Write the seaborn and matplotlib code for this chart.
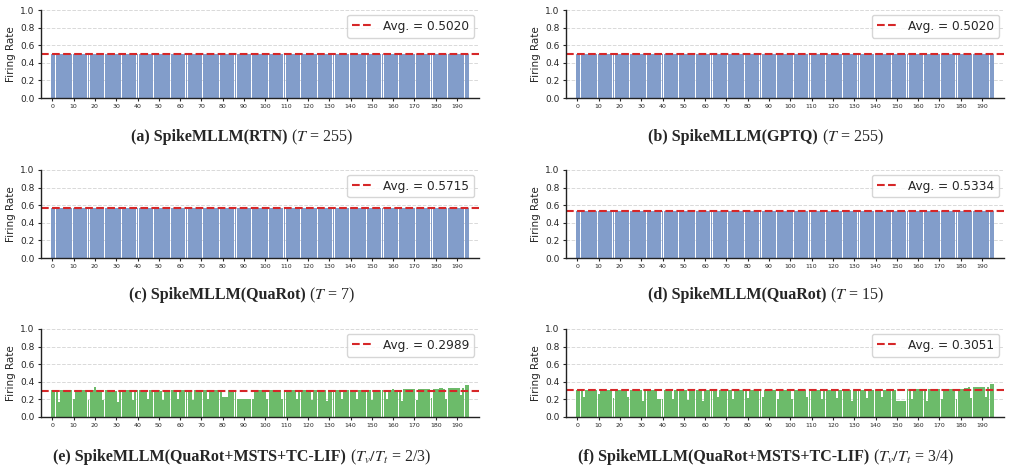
import matplotlib
matplotlib.use("Agg")
import matplotlib.pyplot as plt
import seaborn as sns

# ---- data -------------------------------------------------------------
MODULE_IDX = list(range(196))
TICK_POS = list(range(0, 196, 10))

# uniform firing rates for the quantized baselines
RTN_RATES = [0.502] * 196
GPTQ_RATES = [0.502] * 196
QUAROT_T7_RATES = [0.5715] * 196
QUAROT_T15_RATES = [0.5334] * 196

# QuaRot+MSTS+TC-LIF, Tv/Tt = 2/3 (7 modules per layer, 28 layers)
MSTS_23_RATES = [
    0.31, 0.31, 0.30, 0.17, 0.31, 0.31, 0.31,
    0.31, 0.31, 0.31, 0.21, 0.31, 0.31, 0.31,
    0.31, 0.31, 0.31, 0.19, 0.31, 0.31, 0.34,
    0.31, 0.31, 0.31, 0.19, 0.31, 0.31, 0.31,
    0.31, 0.31, 0.30, 0.17, 0.31, 0.31, 0.31,
    0.31, 0.31, 0.31, 0.19, 0.31, 0.31, 0.31,
    0.31, 0.31, 0.31, 0.21, 0.31, 0.31, 0.31,
    0.31, 0.31, 0.30, 0.19, 0.31, 0.31, 0.31,
    0.31, 0.31, 0.31, 0.20, 0.31, 0.31, 0.31,
    0.31, 0.31, 0.31, 0.19, 0.31, 0.31, 0.31,
    0.31, 0.31, 0.31, 0.20, 0.31, 0.31, 0.31,
    0.31, 0.31, 0.31, 0.23, 0.23, 0.23, 0.31,
    0.31, 0.31, 0.31, 0.21, 0.21, 0.21, 0.21,
    0.21, 0.21, 0.21, 0.20, 0.31, 0.31, 0.31,
    0.31, 0.31, 0.31, 0.20, 0.31, 0.31, 0.31,
    0.31, 0.31, 0.31, 0.21, 0.31, 0.31, 0.31,
    0.31, 0.31, 0.31, 0.20, 0.31, 0.31, 0.31,
    0.31, 0.31, 0.31, 0.19, 0.31, 0.31, 0.31,
    0.31, 0.31, 0.31, 0.18, 0.31, 0.31, 0.31,
    0.31, 0.31, 0.31, 0.20, 0.31, 0.31, 0.31,
    0.31, 0.31, 0.31, 0.21, 0.31, 0.31, 0.31,
    0.31, 0.31, 0.31, 0.19, 0.31, 0.31, 0.31,
    0.31, 0.31, 0.31, 0.20, 0.31, 0.31, 0.32,
    0.31, 0.31, 0.31, 0.18, 0.32, 0.32, 0.32,
    0.32, 0.32, 0.32, 0.19, 0.32, 0.32, 0.32,
    0.32, 0.32, 0.32, 0.22, 0.32, 0.32, 0.32,
    0.33, 0.33, 0.32, 0.20, 0.33, 0.33, 0.33,
    0.33, 0.33, 0.33, 0.25, 0.33, 0.36, 0.36,
]

# QuaRot+MSTS+TC-LIF, Tv/Tt = 3/4
MSTS_34_RATES = [
    0.31, 0.31, 0.31, 0.23, 0.31, 0.31, 0.31,
    0.31, 0.31, 0.31, 0.26, 0.31, 0.31, 0.31,
    0.31, 0.31, 0.31, 0.22, 0.31, 0.31, 0.31,
    0.31, 0.31, 0.31, 0.23, 0.31, 0.31, 0.31,
    0.31, 0.31, 0.31, 0.18, 0.31, 0.31, 0.31,
    0.31, 0.31, 0.31, 0.20, 0.20, 0.20, 0.31,
    0.31, 0.31, 0.31, 0.20, 0.31, 0.31, 0.31,
    0.31, 0.31, 0.31, 0.19, 0.31, 0.31, 0.31,
    0.31, 0.31, 0.31, 0.18, 0.31, 0.31, 0.31,
    0.31, 0.31, 0.31, 0.23, 0.31, 0.31, 0.31,
    0.31, 0.31, 0.31, 0.20, 0.31, 0.31, 0.31,
    0.31, 0.31, 0.31, 0.22, 0.31, 0.31, 0.31,
    0.31, 0.31, 0.31, 0.23, 0.31, 0.31, 0.31,
    0.31, 0.31, 0.31, 0.20, 0.31, 0.31, 0.31,
    0.31, 0.31, 0.31, 0.20, 0.31, 0.31, 0.31,
    0.31, 0.31, 0.31, 0.23, 0.31, 0.31, 0.31,
    0.31, 0.31, 0.31, 0.20, 0.31, 0.31, 0.31,
    0.31, 0.31, 0.31, 0.22, 0.31, 0.31, 0.31,
    0.31, 0.31, 0.31, 0.18, 0.31, 0.31, 0.31,
    0.31, 0.31, 0.31, 0.22, 0.31, 0.31, 0.31,
    0.31, 0.31, 0.31, 0.23, 0.31, 0.31, 0.31,
    0.31, 0.31, 0.31, 0.18, 0.18, 0.18, 0.18,
    0.18, 0.32, 0.32, 0.20, 0.32, 0.32, 0.32,
    0.32, 0.32, 0.32, 0.18, 0.32, 0.32, 0.32,
    0.32, 0.32, 0.32, 0.20, 0.32, 0.32, 0.32,
    0.32, 0.32, 0.32, 0.21, 0.32, 0.32, 0.32,
    0.33, 0.33, 0.34, 0.22, 0.34, 0.34, 0.34,
    0.34, 0.34, 0.34, 0.23, 0.34, 0.37, 0.37,
]

AVERAGES = [0.5020, 0.5020, 0.5715, 0.5334, 0.2989, 0.3051]

CAPTION_BOLD = [
    "(a) SpikeMLLM(RTN)",
    "(b) SpikeMLLM(GPTQ)",
    "(c) SpikeMLLM(QuaRot)",
    "(d) SpikeMLLM(QuaRot)",
    "(e) SpikeMLLM(QuaRot+MSTS+TC-LIF)",
    "(f) SpikeMLLM(QuaRot+MSTS+TC-LIF)",
]
CAPTION_REST = [
    "($T$ = 255)",
    "($T$ = 255)",
    "($T$ = 7)",
    "($T$ = 15)",
    "($T_v/T_t$ = 2/3)",
    "($T_v/T_t$ = 3/4)",
]

SERIES = [RTN_RATES, GPTQ_RATES, QUAROT_T7_RATES, QUAROT_T15_RATES,
          MSTS_23_RATES, MSTS_34_RATES]

# ---- style ------------------------------------------------------------
BLUE = "#829dca"
GREEN = "#6cbb6a"
RED = "#d62728"
SERIF = ["Liberation Serif", "DejaVu Serif"]

sns.set_style("ticks")
plt.rcParams["font.family"] = ["DejaVu Sans"]
plt.rcParams["mathtext.fontset"] = "stix"

W, H = 1010, 472
fig = plt.figure(figsize=(W / 100, H / 100), dpi=100)

# axes boxes in pixels
col_px = [(41, 479), (566, 1004)]
row_px = [(10, 98), (170, 258), (329, 417)]
caption_base = [141, 299, 461]   # baseline of caption text, px from top
caption_cx = [242, 766]          # captions centred on the whole sub-figure

captions = []
for i, rates in enumerate(SERIES):
    r, c = divmod(i, 2)
    x0, x1 = col_px[c]
    y0, y1 = row_px[r]
    ax = fig.add_axes([x0 / W, 1 - y1 / H, (x1 - x0) / W, (y1 - y0) / H])

    color = GREEN if r == 2 else BLUE
    sns.barplot(x=MODULE_IDX, y=rates, color=color, saturation=1,
                native_scale=True, width=0.93, linewidth=0, ax=ax)
    ax.axhline(AVERAGES[i], color=RED, ls="--", lw=1.5,
               label=f"Avg. = {AVERAGES[i]:.4f}")

    ax.set_xlim(-5.3, 200.3)
    ax.set_ylim(0, 1.0)
    ax.set_xticks(TICK_POS)
    ax.set_xticklabels([str(t) for t in TICK_POS], fontsize=4.5)
    ax.set_yticks([0, 0.2, 0.4, 0.6, 0.8, 1.0])
    ax.set_yticklabels(["0.0", "0.2", "0.4", "0.6", "0.8", "1.0"], fontsize=6.5)
    ax.tick_params(axis="x", length=2.5, width=0.8, pad=2)
    ax.tick_params(axis="y", length=2.5, width=0.8, pad=2)
    ax.set_ylabel("Firing Rate", fontsize=7.5, labelpad=3)
    ax.set_xlabel("")
    ax.yaxis.grid(True, ls="--", color="#d9d9d9", lw=0.7)
    ax.set_axisbelow(True)
    sns.despine(ax=ax)
    for s in ["left", "bottom"]:
        ax.spines[s].set_linewidth(1.0)
        ax.spines[s].set_color("#222222")

    ax.legend(loc="upper right", fontsize=8.7, handlelength=1.8,
              frameon=True, fancybox=True, borderaxespad=0.4)

    # caption: bold part + regular part on a shared baseline
    yb = 1 - caption_base[r] / H
    t1 = fig.text(0, yb, CAPTION_BOLD[i], family=SERIF, fontweight="bold",
                  fontsize=11.5, va="baseline", ha="left")
    t2 = fig.text(0, yb, CAPTION_REST[i], family=SERIF, fontsize=11.5,
                  va="baseline", ha="left")
    captions.append((t1, t2, caption_cx[c]))

# center each caption under its panel
fig.canvas.draw()
renderer = fig.canvas.get_renderer()
gap = 4
for t1, t2, cx in captions:
    w1 = t1.get_window_extent(renderer).width
    w2 = t2.get_window_extent(renderer).width
    left = cx - (w1 + gap + w2) / 2
    t1.set_x(left / W)
    t2.set_x((left + w1 + gap) / W)

fig.savefig("out.png", dpi=100)
plt.close(fig)
